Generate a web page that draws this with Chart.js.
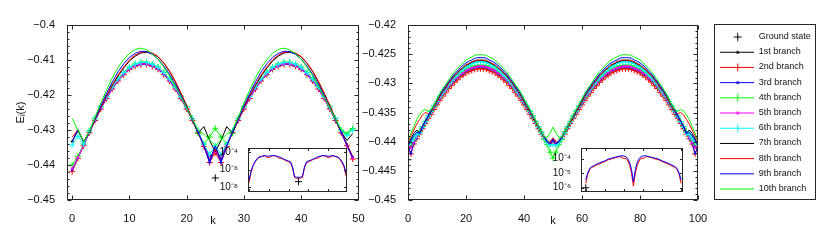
<!DOCTYPE html>
<html>
<head>
<meta charset="utf-8">
<script src="https://cdn.jsdelivr.net/npm/chart.js@4.4.1/dist/chart.umd.min.js"></script>
<style>
body { margin: 0; background: #fff; }
#wrap { position: relative; width: 830px; height: 250px; overflow: hidden; }
canvas { position: absolute; }
</style>
</head>
<body>
<div id="wrap">
<canvas id="cL" width="370" height="250" style="left:0px;top:0px"></canvas>
<canvas id="cR" width="470" height="250" style="left:360px;top:0px"></canvas>
<canvas id="iL" width="140" height="60" style="left:215px;top:140px"></canvas>
<canvas id="iR" width="145" height="60" style="left:548px;top:140px"></canvas>
</div>
<script>
//============================== data ==============================
const kLeft = [0,1,2,3,4,5,6,7,8,9,10,11,12,13,14,15,16,17,18,19,20,21,22,23,24,
    25,26,27,28,29,30,31,32,33,34,35,36,37,38,39,40,41,42,43,44,45,46,47,48,49];
const kRight = [0,1,2,3,4,5,6,7,8,9,10,11,12,13,14,15,16,17,18,19,20,21,22,23,24,
    25,26,27,28,29,30,31,32,33,34,35,36,37,38,39,40,41,42,43,44,45,46,47,48,49,50,
    51,52,53,54,55,56,57,58,59,60,61,62,63,64,65,66,67,68,69,70,71,72,73,74,75,
    76,77,78,79,80,81,82,83,84,85,86,87,88,89,90,91,92,93,94,95,96,97,98,99,100];
const insetKRight = [0,2,4,6,8,10,12,14,16,18,20,22,24,26,28,30,32,34,36,38,40,42,44,46,48,50,
    52,54,56,58,60,62,64,66,68,70,72,74,76,78,80,82,84,86,88,90,92,94,96,98,100];

const branchNames = ['1st branch','2nd branch','3rd branch','4th branch','5th branch',
    '6th branch','7th branch','8th branch','9th branch','10th branch'];

// ground state
const groundLeftK = [25], groundLeftE = [-0.4437];
const groundRightK = [0], groundRightE = [-0.4431];
const insetGroundLeft = [4e-8], insetGroundRight = [1e-6];

// tick labels
const leftXTicks = [0,10,20,30,40,50];
const leftYTicks = [-0.45,-0.44,-0.43,-0.42,-0.41,-0.4];
const rightXTicks = [0,20,40,60,80,100];
const rightYTicks = [-0.45,-0.445,-0.44,-0.435,-0.43,-0.425,-0.42];
const insetLeftYTicks = [1e-8,1e-6,1e-4];
const insetRightYTicks = [1e-6,1e-5,1e-4];
const insetLeftXTicks = [0,10,20,30,40];
const insetRightXTicks = [0,20,40,60,80,100];

// left panel, k = 0..49
const b1L = [-.4333,-.4302,-.4335,-.4306,-.4271,-.4238,-.4208,-.4181,-.4158,-.4140,
 -.4125,-.4116,-.4111,-.4111,-.4116,-.4125,-.4140,-.4158,-.4181,-.4208,
 -.4238,-.4271,-.4306,-.4343,-.4375,-.4365,-.4375,-.4343,-.4306,-.4271,
 -.4238,-.4208,-.4181,-.4158,-.4140,-.4125,-.4116,-.4111,-.4111,-.4116,
 -.4125,-.4140,-.4158,-.4181,-.4208,-.4238,-.4271,-.4306,-.4343,-.4380];
const b2L = [-.4419,-.4381,-.4345,-.4308,-.4273,-.4240,-.4210,-.4183,-.4160,-.4142,
 -.4127,-.4118,-.4113,-.4113,-.4118,-.4127,-.4142,-.4160,-.4183,-.4210,
 -.4240,-.4273,-.4308,-.4347,-.4393,-.4365,-.4393,-.4347,-.4308,-.4273,
 -.4240,-.4210,-.4183,-.4160,-.4142,-.4127,-.4118,-.4113,-.4113,-.4118,
 -.4127,-.4142,-.4160,-.4183,-.4210,-.4240,-.4273,-.4308,-.4345,-.4383];
const b3L = [-.4414,-.4380,-.4343,-.4307,-.4272,-.4239,-.4209,-.4182,-.4159,-.4141,
 -.4126,-.4117,-.4112,-.4112,-.4117,-.4126,-.4141,-.4159,-.4182,-.4209,
 -.4239,-.4272,-.4307,-.4345,-.4393,-.4352,-.4393,-.4345,-.4307,-.4272,
 -.4239,-.4209,-.4182,-.4159,-.4141,-.4126,-.4117,-.4112,-.4112,-.4117,
 -.4126,-.4141,-.4159,-.4182,-.4209,-.4239,-.4272,-.4307,-.4343,-.4378];
const b4L = [-.4400,-.4375,-.4340,-.4302,-.4266,-.4233,-.4203,-.4176,-.4153,-.4135,
 -.4120,-.4111,-.4106,-.4106,-.4111,-.4120,-.4135,-.4153,-.4176,-.4203,
 -.4233,-.4267,-.4310,-.4340,-.4320,-.4295,-.4320,-.4340,-.4310,-.4267,
 -.4233,-.4203,-.4176,-.4153,-.4135,-.4120,-.4111,-.4106,-.4106,-.4111,
 -.4120,-.4135,-.4153,-.4176,-.4203,-.4233,-.4266,-.4300,-.4312,-.4296];
const b5L = [-.4410,-.4379,-.4343,-.4306,-.4271,-.4238,-.4208,-.4181,-.4158,-.4140,
 -.4125,-.4116,-.4111,-.4111,-.4116,-.4125,-.4140,-.4158,-.4181,-.4208,
 -.4238,-.4271,-.4306,-.4343,-.4378,-.4362,-.4378,-.4343,-.4306,-.4271,
 -.4238,-.4208,-.4181,-.4158,-.4140,-.4125,-.4116,-.4111,-.4111,-.4116,
 -.4125,-.4140,-.4158,-.4181,-.4208,-.4238,-.4271,-.4306,-.4343,-.4380];
const b6L = [-.4343,-.4318,-.4340,-.4303,-.4267,-.4234,-.4204,-.4177,-.4154,-.4136,
 -.4121,-.4112,-.4107,-.4107,-.4112,-.4121,-.4136,-.4154,-.4177,-.4204,
 -.4234,-.4267,-.4302,-.4340,-.4370,-.4345,-.4370,-.4340,-.4302,-.4267,
 -.4234,-.4204,-.4177,-.4154,-.4136,-.4121,-.4112,-.4107,-.4107,-.4112,
 -.4121,-.4136,-.4154,-.4177,-.4204,-.4234,-.4267,-.4302,-.4315,-.4300];
const b7L = [-.4333,-.4300,-.4333,-.4306,-.4270,-.4236,-.4203,-.4173,-.4146,-.4123,
 -.4103,-.4089,-.4080,-.4078,-.4081,-.4091,-.4109,-.4133,-.4162,-.4196,
 -.4232,-.4270,-.4310,-.4290,-.4330,-.4362,-.4330,-.4290,-.4310,-.4270,
 -.4236,-.4203,-.4173,-.4146,-.4123,-.4103,-.4089,-.4080,-.4078,-.4081,
 -.4091,-.4109,-.4133,-.4162,-.4196,-.4232,-.4270,-.4306,-.4330,-.4310];
const b8L = [-.4320,-.4300,-.4333,-.4306,-.4270,-.4235,-.4202,-.4171,-.4143,-.4120,
 -.4100,-.4086,-.4078,-.4076,-.4080,-.4090,-.4108,-.4131,-.4160,-.4194,
 -.4230,-.4268,-.4306,-.4345,-.4385,-.4355,-.4385,-.4345,-.4306,-.4270,
 -.4235,-.4202,-.4171,-.4143,-.4120,-.4100,-.4086,-.4078,-.4076,-.4080,
 -.4090,-.4108,-.4131,-.4160,-.4194,-.4230,-.4268,-.4306,-.4340,-.4375];
const b9L = [-.4333,-.4300,-.4333,-.4306,-.4268,-.4231,-.4196,-.4163,-.4134,-.4111,
 -.4093,-.4081,-.4075,-.4076,-.4084,-.4097,-.4117,-.4141,-.4169,-.4201,
 -.4235,-.4270,-.4306,-.4345,-.4388,-.4345,-.4388,-.4345,-.4306,-.4268,
 -.4231,-.4196,-.4163,-.4134,-.4111,-.4093,-.4081,-.4075,-.4076,-.4084,
 -.4097,-.4117,-.4141,-.4169,-.4201,-.4235,-.4270,-.4306,-.4343,-.4378];
const b10L = [-.4267,-.4300,-.4333,-.4305,-.4263,-.4223,-.4186,-.4151,-.4122,-.4099,
 -.4081,-.4070,-.4066,-.4071,-.4082,-.4098,-.4120,-.4145,-.4174,-.4205,
 -.4237,-.4270,-.4300,-.4312,-.4328,-.4345,-.4328,-.4312,-.4300,-.4263,
 -.4223,-.4186,-.4151,-.4122,-.4099,-.4081,-.4070,-.4066,-.4071,-.4082,
 -.4098,-.4120,-.4145,-.4174,-.4205,-.4237,-.4270,-.4300,-.4310,-.4292];

// right panel, k = 0..100
const b1R = [-.4412,-.4408,-.4400,-.4392,-.4385,-.4376,-.4367,-.4358,-.4350,-.4342,
 -.4334,-.4326,-.4319,-.4313,-.4306,-.4301,-.4295,-.4291,-.4286,-.4283,
 -.4279,-.4277,-.4275,-.4273,-.4272,-.4272,-.4272,-.4273,-.4275,-.4277,
 -.4279,-.4283,-.4286,-.4291,-.4295,-.4301,-.4306,-.4313,-.4319,-.4326,
 -.4334,-.4342,-.4350,-.4358,-.4367,-.4376,-.4385,-.4394,-.4401,-.4403,
 -.4398,
 -.4403,-.4401,-.4394,-.4385,-.4376,-.4367,-.4358,-.4350,-.4342,-.4334,
 -.4326,-.4319,-.4313,-.4306,-.4301,-.4295,-.4291,-.4286,-.4283,-.4279,
 -.4277,-.4275,-.4273,-.4272,-.4272,-.4272,-.4273,-.4275,-.4277,-.4279,
 -.4283,-.4286,-.4291,-.4295,-.4301,-.4306,-.4313,-.4319,-.4326,-.4334,
 -.4342,-.4350,-.4358,-.4367,-.4376,-.4385,-.4392,-.4400,-.4408,-.4412];
const b2R = [-.4410,-.4421,-.4404,-.4395,-.4387,-.4378,-.4369,-.4360,-.4353,-.4345,
 -.4337,-.4329,-.4322,-.4316,-.4309,-.4304,-.4298,-.4294,-.4289,-.4286,
 -.4282,-.4280,-.4278,-.4276,-.4275,-.4275,-.4275,-.4276,-.4278,-.4280,
 -.4282,-.4286,-.4289,-.4294,-.4298,-.4304,-.4309,-.4316,-.4322,-.4329,
 -.4337,-.4345,-.4353,-.4360,-.4369,-.4378,-.4387,-.4395,-.4401,-.4404,
 -.4398,
 -.4404,-.4401,-.4395,-.4387,-.4378,-.4369,-.4360,-.4353,-.4345,-.4337,
 -.4329,-.4322,-.4316,-.4309,-.4304,-.4298,-.4294,-.4289,-.4286,-.4282,
 -.4280,-.4278,-.4276,-.4275,-.4275,-.4275,-.4276,-.4278,-.4280,-.4282,
 -.4286,-.4289,-.4294,-.4298,-.4304,-.4309,-.4316,-.4322,-.4329,-.4337,
 -.4345,-.4353,-.4360,-.4369,-.4378,-.4387,-.4395,-.4404,-.4421,-.4410];
const b3R = [-.4408,-.4420,-.4403,-.4394,-.4385,-.4376,-.4367,-.4358,-.4350,-.4342,
 -.4334,-.4326,-.4319,-.4313,-.4306,-.4301,-.4295,-.4291,-.4286,-.4283,
 -.4279,-.4277,-.4275,-.4273,-.4272,-.4272,-.4272,-.4273,-.4275,-.4277,
 -.4279,-.4283,-.4286,-.4291,-.4295,-.4301,-.4306,-.4313,-.4319,-.4326,
 -.4334,-.4342,-.4350,-.4358,-.4367,-.4376,-.4385,-.4394,-.4400,-.4404,
 -.4396,
 -.4404,-.4400,-.4394,-.4385,-.4376,-.4367,-.4358,-.4350,-.4342,-.4334,
 -.4326,-.4319,-.4313,-.4306,-.4301,-.4295,-.4291,-.4286,-.4283,-.4279,
 -.4277,-.4275,-.4273,-.4272,-.4272,-.4272,-.4273,-.4275,-.4277,-.4279,
 -.4283,-.4286,-.4291,-.4295,-.4301,-.4306,-.4313,-.4319,-.4326,-.4334,
 -.4342,-.4350,-.4358,-.4367,-.4376,-.4385,-.4394,-.4403,-.4420,-.4408];
const b4R = [-.4400,-.4405,-.4398,-.4390,-.4383,-.4374,-.4365,-.4356,-.4347,-.4339,
 -.4331,-.4323,-.4316,-.4310,-.4303,-.4298,-.4292,-.4288,-.4283,-.4280,
 -.4276,-.4274,-.4272,-.4270,-.4269,-.4269,-.4269,-.4270,-.4272,-.4274,
 -.4276,-.4280,-.4283,-.4288,-.4292,-.4298,-.4303,-.4310,-.4316,-.4323,
 -.4331,-.4339,-.4347,-.4356,-.4365,-.4374,-.4383,-.4396,-.4405,-.4418,
 -.4428,
 -.4418,-.4405,-.4396,-.4383,-.4374,-.4365,-.4356,-.4347,-.4339,-.4331,
 -.4323,-.4316,-.4310,-.4303,-.4298,-.4292,-.4288,-.4283,-.4280,-.4276,
 -.4274,-.4272,-.4270,-.4269,-.4269,-.4269,-.4270,-.4272,-.4274,-.4276,
 -.4280,-.4283,-.4288,-.4292,-.4298,-.4303,-.4310,-.4316,-.4323,-.4331,
 -.4339,-.4347,-.4356,-.4365,-.4374,-.4383,-.4390,-.4398,-.4405,-.4400];
const b5R = [-.4412,-.4410,-.4401,-.4393,-.4384,-.4375,-.4366,-.4357,-.4349,-.4341,
 -.4333,-.4325,-.4318,-.4312,-.4305,-.4300,-.4294,-.4290,-.4285,-.4282,
 -.4278,-.4276,-.4274,-.4272,-.4271,-.4271,-.4271,-.4272,-.4274,-.4276,
 -.4278,-.4282,-.4285,-.4290,-.4294,-.4300,-.4305,-.4312,-.4318,-.4325,
 -.4333,-.4341,-.4349,-.4357,-.4366,-.4375,-.4384,-.4393,-.4401,-.4404,
 -.4400,
 -.4404,-.4401,-.4393,-.4384,-.4375,-.4366,-.4357,-.4349,-.4341,-.4333,
 -.4325,-.4318,-.4312,-.4305,-.4300,-.4294,-.4290,-.4285,-.4282,-.4278,
 -.4276,-.4274,-.4272,-.4271,-.4271,-.4271,-.4272,-.4274,-.4276,-.4278,
 -.4282,-.4285,-.4290,-.4294,-.4300,-.4305,-.4312,-.4318,-.4325,-.4333,
 -.4341,-.4349,-.4357,-.4366,-.4375,-.4384,-.4393,-.4401,-.4410,-.4412];
const b6R = [-.4405,-.4400,-.4394,-.4388,-.4385,-.4375,-.4366,-.4356,-.4348,-.4339,
 -.4331,-.4322,-.4315,-.4308,-.4301,-.4295,-.4289,-.4284,-.4279,-.4275,
 -.4271,-.4269,-.4266,-.4264,-.4263,-.4263,-.4263,-.4264,-.4266,-.4269,
 -.4271,-.4275,-.4279,-.4284,-.4289,-.4295,-.4301,-.4308,-.4315,-.4322,
 -.4331,-.4339,-.4348,-.4356,-.4366,-.4375,-.4385,-.4394,-.4402,-.4406,
 -.4405,
 -.4406,-.4402,-.4394,-.4385,-.4375,-.4366,-.4356,-.4348,-.4339,-.4331,
 -.4322,-.4315,-.4308,-.4301,-.4295,-.4289,-.4284,-.4279,-.4275,-.4271,
 -.4269,-.4266,-.4264,-.4263,-.4263,-.4263,-.4264,-.4266,-.4269,-.4271,
 -.4275,-.4279,-.4284,-.4289,-.4295,-.4301,-.4308,-.4315,-.4322,-.4331,
 -.4339,-.4348,-.4356,-.4366,-.4375,-.4385,-.4388,-.4394,-.4400,-.4405];
const b7R = [-.4406,-.4395,-.4386,-.4380,-.4385,-.4374,-.4365,-.4356,-.4348,-.4340,
 -.4331,-.4322,-.4314,-.4308,-.4300,-.4294,-.4287,-.4283,-.4277,-.4274,
 -.4269,-.4267,-.4264,-.4262,-.4261,-.4261,-.4261,-.4262,-.4264,-.4267,
 -.4269,-.4274,-.4277,-.4283,-.4287,-.4294,-.4300,-.4308,-.4314,-.4322,
 -.4331,-.4340,-.4348,-.4357,-.4366,-.4375,-.4384,-.4393,-.4400,-.4403,
 -.4398,
 -.4403,-.4400,-.4393,-.4384,-.4375,-.4366,-.4357,-.4348,-.4340,-.4331,
 -.4322,-.4314,-.4308,-.4300,-.4294,-.4287,-.4283,-.4277,-.4274,-.4269,
 -.4267,-.4264,-.4262,-.4261,-.4261,-.4261,-.4262,-.4264,-.4267,-.4269,
 -.4274,-.4277,-.4283,-.4287,-.4294,-.4300,-.4308,-.4314,-.4322,-.4331,
 -.4340,-.4348,-.4356,-.4365,-.4374,-.4385,-.4380,-.4386,-.4395,-.4406];
const b8R = [-.4400,-.4390,-.4380,-.4370,-.4362,-.4354,-.4350,-.4352,-.4348,-.4339,
 -.4330,-.4321,-.4313,-.4307,-.4299,-.4293,-.4286,-.4282,-.4276,-.4273,
 -.4268,-.4266,-.4263,-.4261,-.4260,-.4260,-.4260,-.4261,-.4263,-.4266,
 -.4268,-.4273,-.4276,-.4282,-.4286,-.4293,-.4299,-.4307,-.4313,-.4321,
 -.4330,-.4339,-.4348,-.4356,-.4366,-.4375,-.4384,-.4393,-.4400,-.4404,
 -.4394,
 -.4404,-.4400,-.4393,-.4384,-.4375,-.4366,-.4356,-.4348,-.4339,-.4330,
 -.4321,-.4313,-.4307,-.4299,-.4293,-.4286,-.4282,-.4276,-.4273,-.4268,
 -.4266,-.4263,-.4261,-.4260,-.4260,-.4260,-.4261,-.4263,-.4266,-.4268,
 -.4273,-.4276,-.4282,-.4286,-.4293,-.4299,-.4307,-.4313,-.4321,-.4330,
 -.4339,-.4348,-.4352,-.4350,-.4354,-.4362,-.4370,-.4380,-.4390,-.4400];
const b9R = [-.4408,-.4398,-.4390,-.4384,-.4386,-.4374,-.4364,-.4355,-.4346,-.4337,
 -.4328,-.4319,-.4312,-.4304,-.4297,-.4291,-.4284,-.4279,-.4273,-.4269,
 -.4265,-.4262,-.4260,-.4257,-.4256,-.4256,-.4256,-.4257,-.4260,-.4262,
 -.4265,-.4269,-.4273,-.4279,-.4284,-.4291,-.4297,-.4304,-.4312,-.4319,
 -.4328,-.4337,-.4346,-.4355,-.4364,-.4374,-.4384,-.4393,-.4400,-.4404,
 -.4396,
 -.4404,-.4400,-.4393,-.4384,-.4374,-.4364,-.4355,-.4346,-.4337,-.4328,
 -.4319,-.4312,-.4304,-.4297,-.4291,-.4284,-.4279,-.4273,-.4269,-.4265,
 -.4262,-.4260,-.4257,-.4256,-.4256,-.4256,-.4257,-.4260,-.4262,-.4265,
 -.4269,-.4273,-.4279,-.4284,-.4291,-.4297,-.4304,-.4312,-.4319,-.4328,
 -.4337,-.4346,-.4355,-.4364,-.4374,-.4386,-.4384,-.4390,-.4398,-.4408];
const b10R = [-.4398,-.4386,-.4374,-.4362,-.4354,-.4347,-.4345,-.4348,-.4345,-.4337,
 -.4327,-.4317,-.4309,-.4302,-.4294,-.4287,-.4280,-.4275,-.4269,-.4265,
 -.4260,-.4257,-.4255,-.4252,-.4251,-.4251,-.4251,-.4252,-.4255,-.4257,
 -.4260,-.4265,-.4269,-.4275,-.4280,-.4287,-.4294,-.4302,-.4309,-.4317,
 -.4327,-.4336,-.4345,-.4354,-.4364,-.4374,-.4384,-.4392,-.4392,-.4385,
 -.4375,
 -.4385,-.4392,-.4392,-.4384,-.4374,-.4364,-.4354,-.4345,-.4336,-.4327,
 -.4317,-.4309,-.4302,-.4294,-.4287,-.4280,-.4275,-.4269,-.4265,-.4260,
 -.4257,-.4255,-.4252,-.4251,-.4251,-.4251,-.4252,-.4255,-.4257,-.4260,
 -.4265,-.4269,-.4275,-.4280,-.4287,-.4294,-.4302,-.4309,-.4317,-.4327,
 -.4337,-.4345,-.4348,-.4345,-.4347,-.4354,-.4362,-.4374,-.4386,-.4398];

// insets (log scale)
const insetBlueL = [6e-8,6e-7,3e-6,8e-6,1.8e-5,2.8e-5,3.3e-5,3.8e-5,4.3e-5,3.6e-5,
 3.6e-5,3.9e-5,4.3e-5,4.2e-5,3.6e-5,3.2e-5,2.6e-5,1.9e-5,1.5e-5,1.2e-5,
 1e-5,8e-6,2e-6,1.6e-7,1.3e-7,1.3e-7,1.3e-7,1.6e-7,2e-6,8e-6,
 1e-5,1.2e-5,1.5e-5,1.9e-5,2.6e-5,3.2e-5,3.6e-5,4.2e-5,4.3e-5,3.9e-5,
 3.6e-5,3.6e-5,4.3e-5,3.8e-5,3.3e-5,2.8e-5,1.8e-5,8e-6,3e-6,4e-7];
const insetRedL = [3e-8,4e-7,2.5e-6,7e-6,1.5e-5,2.4e-5,3e-5,3.6e-5,4e-5,2.8e-5,
 2.4e-5,3.2e-5,4e-5,4e-5,3.2e-5,2.2e-5,2e-5,1.7e-5,1.3e-5,1e-5,
 8e-6,6e-6,1.5e-6,1.2e-7,1e-7,1e-7,1e-7,1.2e-7,1.5e-6,6e-6,
 8e-6,1e-5,1.3e-5,1.7e-5,2e-5,2.2e-5,3.2e-5,4e-5,4e-5,3.2e-5,
 2.4e-5,2.8e-5,4e-5,3.6e-5,3e-5,2.4e-5,1.5e-5,6e-6,2e-6,2e-7];
const insetBlueR = [3.5e-6,1e-5,2e-5,2.8e-5,3.2e-5,3.8e-5,4.3e-5,5e-5,5.6e-5,6.3e-5,
 7e-5,8.3e-5,9.5e-5,1.05e-4,1.12e-4,1.2e-4,1.32e-4,1.4e-4,1.5e-4,1.6e-4,
 1.5e-4,1.4e-4,1e-4,5.6e-5,1.8e-5,2.5e-6,
 1.8e-5,5.6e-5,1e-4,1.4e-4,1.5e-4,1.6e-4,1.5e-4,1.4e-4,1.32e-4,1.2e-4,
 1.12e-4,1.05e-4,9.5e-5,8.3e-5,7e-5,6.3e-5,5.6e-5,5e-5,4.3e-5,3.8e-5,
 3.2e-5,2.8e-5,2e-5,1e-5,3.5e-6];
const insetRedR = [2e-6,8e-6,1.7e-5,2.4e-5,2.8e-5,3.2e-5,3.8e-5,4.2e-5,5e-5,5.6e-5,
 6.3e-5,7.5e-5,8.5e-5,9e-5,1e-4,1.1e-4,1.2e-4,1.3e-4,1.4e-4,1.2e-4,
 1e-4,1.1e-4,7e-5,3.5e-5,1e-5,1.3e-6,
 1e-5,3.5e-5,7e-5,1.1e-4,1e-4,1.2e-4,1.4e-4,1.3e-4,1.2e-4,1.1e-4,
 1e-4,9e-5,8.5e-5,7.5e-5,6.3e-5,5.6e-5,5e-5,4.2e-5,3.8e-5,3.2e-5,
 2.8e-5,2.4e-5,1.7e-5,8e-6,2e-6];

//============================== style ==============================
const branchColors = ['#000000','#ff0000','#0000ff','#00ff00','#ff00ff','#00ffff',
    '#000000','#ff0000','#0000ff','#00ff00'];
const branchMarkers = ['dot','plus','dot','plus','dot','plus','','','',''];

Chart.defaults.font.family = "'Liberation Sans', Arial, sans-serif";
Chart.defaults.color = '#111';

// box round the axes, ticks pointing in (matlab look)
const frameCfg = {
    cL: { xMajor: leftXTicks, yMajor: leftYTicks, yMinor: 0.002, len: 4, minorLen: 2 },
    cR: { xMajor: rightXTicks, yMajor: rightYTicks, yMinor: 0.001, len: 4, minorLen: 2, legendBox: true },
    iL: { xMajor: insetLeftXTicks, yMajor: insetLeftYTicks, len: 2.5, fill: true },
    iR: { xMajor: insetRightXTicks, yMajor: insetRightYTicks, len: 2.5, fill: true }
};

const framePlugin = {
    id: 'frame',
    beforeDraw(chart) {
        const o = frameCfg[chart.canvas.id];
        if (!o || !o.fill) return;
        const a = chart.chartArea, ctx = chart.ctx;
        ctx.save();
        ctx.fillStyle = '#ffffff';
        ctx.fillRect(a.left, a.top, a.right - a.left, a.bottom - a.top);
        ctx.restore();
    },
    afterDraw(chart) {
        const o = frameCfg[chart.canvas.id];
        if (!o) return;
        const ctx = chart.ctx, a = chart.chartArea;
        const sx = chart.scales.x, sy = chart.scales.y;
        const L = Math.round(a.left) + 0.5, R = Math.round(a.right) - 0.5;
        const T = Math.round(a.top) + 0.5, B = Math.round(a.bottom) - 0.5;
        ctx.save();
        ctx.strokeStyle = '#262626';
        ctx.lineWidth = 1;
        ctx.beginPath();
        o.xMajor.forEach(v => {
            const p = Math.round(sx.getPixelForValue(v)) + 0.5;
            ctx.moveTo(p, B); ctx.lineTo(p, B - o.len);
            ctx.moveTo(p, T); ctx.lineTo(p, T + o.len);
        });
        const yTick = (v, len) => {
            const p = Math.round(sy.getPixelForValue(v)) + 0.5;
            ctx.moveTo(L, p); ctx.lineTo(L + len, p);
            ctx.moveTo(R, p); ctx.lineTo(R - len, p);
        };
        o.yMajor.forEach(v => yTick(v, o.len));
        if (o.yMinor) {
            const n = Math.round((sy.max - sy.min) / o.yMinor);
            for (let i = 1; i < n; i++) yTick(sy.min + i * o.yMinor, o.minorLen);
        }
        ctx.stroke();
        ctx.strokeRect(L, T, R - L, B - T);
        if (o.legendBox && chart.legend) {
            const lg = chart.legend;
            ctx.strokeRect(Math.round(lg.left) + 0.5, Math.round(lg.top) - 0.5,
                Math.round(lg.width) - 1, Math.round(lg.height));
        }
        ctx.restore();
    }
};
Chart.register(framePlugin);

function minusLabel(v) {
    return String(+v.toFixed(3)).replace('-', '\u2212');
}

const supDigits = {'-': '\u207b', '0': '\u2070', '1': '\u00b9', '2': '\u00b2', '3': '\u00b3',
    '4': '\u2074', '5': '\u2075', '6': '\u2076', '7': '\u2077', '8': '\u2078', '9': '\u2079'};
function powerLabel(v) {
    const e = String(Math.round(Math.log10(v)));
    return '10' + e.split('').map(c => supDigits[c]).join('');
}

function makeSets(branches, groundK, groundE) {
    const sets = [{
        label: 'Ground state',
        data: [{x: groundK[0], y: groundE[0]}],
        showLine: false,
        pointStyle: 'cross',
        pointRadius: 3.5,
        pointBorderColor: '#000',
        pointBorderWidth: 1,
        borderColor: '#000',
        order: 11
    }];
    branches.forEach((vals, i) => {
        const m = branchMarkers[i];
        sets.push({
            label: branchNames[i],
            data: vals,
            borderColor: branchColors[i],
            borderWidth: 1,
            pointStyle: m === 'plus' ? 'cross' : 'circle',
            pointRadius: m === 'plus' ? 3 : (m === 'dot' ? 1.3 : 0),
            pointBorderWidth: m === 'plus' ? 1 : 0,
            pointBorderColor: branchColors[i],
            pointBackgroundColor: branchColors[i],
            order: 10 - i
        });
    });
    return sets;
}

function mainOptions(c) {
    return {
        responsive: false,
        animation: false,
        events: [],
        devicePixelRatio: 1,
        layout: { padding: c.padding },
        elements: { line: { tension: 0 } },
        plugins: {
            legend: c.legend || { display: false },
            tooltip: { enabled: false }
        },
        scales: {
            x: {
                type: 'linear', min: c.xMin, max: c.xMax,
                grid: { display: false }, border: { display: false },
                afterBuildTicks: s => { s.ticks = c.xTicks.map(v => ({value: v})); },
                afterFit: s => { s.height = 28; },
                ticks: { font: { size: 11 }, padding: 4, maxRotation: 0, autoSkip: false,
                         callback: v => String(v) },
                title: { display: true, text: 'k', font: { size: 11 }, padding: 0 }
            },
            y: {
                type: 'linear', min: c.yMin, max: c.yMax,
                grid: { display: false }, border: { display: false },
                afterBuildTicks: s => { s.ticks = c.yTicks.map(v => ({value: v})); },
                afterFit: s => { s.width = c.yWidth; },
                ticks: { font: { size: 11 }, padding: 4, autoSkip: false, callback: minusLabel },
                title: c.yTitle ? { display: true, text: c.yTitle, font: { size: 11 },
                                    padding: { top: 14, bottom: 0 } } : { display: false }
            },
            ...(c.extraScales || {})
        }
    };
}

//============================== left panel ==============================
new Chart(document.getElementById('cL'), {
    type: 'line',
    data: { labels: kLeft, datasets: makeSets([b1L,b2L,b3L,b4L,b5L,b6L,b7L,b8L,b9L,b10L], groundLeftK, groundLeftE) },
    options: mainOptions({
        padding: { left: 0, right: 11, top: 25, bottom: 22 },
        xMin: -0.9, xMax: 50.1, xTicks: leftXTicks,
        yMin: -0.45, yMax: -0.4, yTicks: leftYTicks, yWidth: 67,
        yTitle: 'E\u1d62(k)'
    })
});

//============================== right panel + legend ==============================
function legendSample(color, marker, withLine) {
    const c = document.createElement('canvas');
    c.width = 34; c.height = 10;
    const g = c.getContext('2d');
    g.strokeStyle = color; g.fillStyle = color; g.lineWidth = 1;
    if (withLine) {
        g.beginPath(); g.moveTo(0, 5.5); g.lineTo(34, 5.5); g.stroke();
    }
    if (marker === 'plus') {
        g.beginPath();
        g.moveTo(13.5, 5.5); g.lineTo(21.5, 5.5);
        g.moveTo(17.5, 1.5); g.lineTo(17.5, 9.5);
        g.stroke();
    } else if (marker === 'dot') {
        g.beginPath(); g.arc(17.5, 5.5, 1.5, 0, Math.PI * 2); g.fill();
    }
    return c;
}

const legendItems = [{
    text: 'Ground state', pointStyle: legendSample('#000', 'plus', false),
    fillStyle: '#000', strokeStyle: '#000', lineWidth: 0, hidden: false, datasetIndex: 0, fontColor: '#111'
}].concat(branchNames.map((n, i) => ({
    text: n, pointStyle: legendSample(branchColors[i], branchMarkers[i], true),
    fillStyle: branchColors[i], strokeStyle: branchColors[i], lineWidth: 0,
    hidden: false, datasetIndex: i + 1, fontColor: '#111'
})));

new Chart(document.getElementById('cR'), {
    type: 'line',
    data: { labels: kRight, datasets: makeSets([b1R,b2R,b3R,b4R,b5R,b6R,b7R,b8R,b9R,b10R], groundRightK, groundRightE) },
    options: mainOptions({
        padding: { left: 0, right: 14, top: 25, bottom: 22 },
        xMin: 0, xMax: 100, xTicks: rightXTicks,
        yMin: -0.45, yMax: -0.42, yTicks: rightYTicks, yWidth: 48,
        legend: {
            display: true, position: 'right', fullSize: false, maxWidth: 102, align: 'center',
            labels: {
                usePointStyle: true, pointStyleWidth: 34, padding: 6.2,
                font: { size: 9 }, color: '#111',
                generateLabels: () => legendItems
            }
        },
        extraScales: {
            gap: {
                type: 'linear', position: 'right', display: true,
                grid: { display: false }, border: { display: false }, ticks: { display: false },
                afterFit: s => { s.width = 16; }
            }
        }
    })
});

//============================== insets ==============================
function inset(id, labels, blue, red, gK, gV, xMin, xMax, yMin, yMax, yTicks, padRight) {
    new Chart(document.getElementById(id), {
        type: 'line',
        data: {
            labels: labels,
            datasets: [
                { data: [{x: gK[0], y: gV[0]}], showLine: false, pointStyle: 'cross', pointRadius: 3.5,
                  pointBorderColor: '#000', pointBorderWidth: 1, order: 0 },
                { data: blue, borderColor: '#0000ff', borderWidth: 1, pointRadius: 0, order: 1 },
                { data: red, borderColor: '#ff0000', borderWidth: 1, pointRadius: 0, order: 2 }
            ]
        },
        options: {
            responsive: false, animation: false, events: [], devicePixelRatio: 1,
            layout: { padding: { left: 0, right: padRight, top: 8, bottom: 7 } },
            elements: { line: { tension: 0 } },
            plugins: { legend: { display: false }, tooltip: { enabled: false } },
            scales: {
                x: { type: 'linear', min: xMin, max: xMax, display: false },
                y: {
                    type: 'logarithmic', min: yMin, max: yMax,
                    grid: { display: false }, border: { display: false },
                    afterBuildTicks: s => { s.ticks = yTicks.map(v => ({value: v})); },
                    afterFit: s => { s.width = 33; },
                    ticks: { font: { size: 10 }, padding: 2, autoSkip: false, callback: powerLabel }
                }
            }
        }
    });
}

inset('iL', kLeft, insetBlueL, insetRedL, [25], insetGroundLeft, -0.5, 49.5, 2.5e-9, 3.2e-4, insetLeftYTicks, 8);
inset('iR', insetKRight, insetBlueR, insetRedR, [0], insetGroundRight, -5, 102, 5.1e-7, 5.4e-4, insetRightYTicks, 10);
</script>
</body>
</html>
